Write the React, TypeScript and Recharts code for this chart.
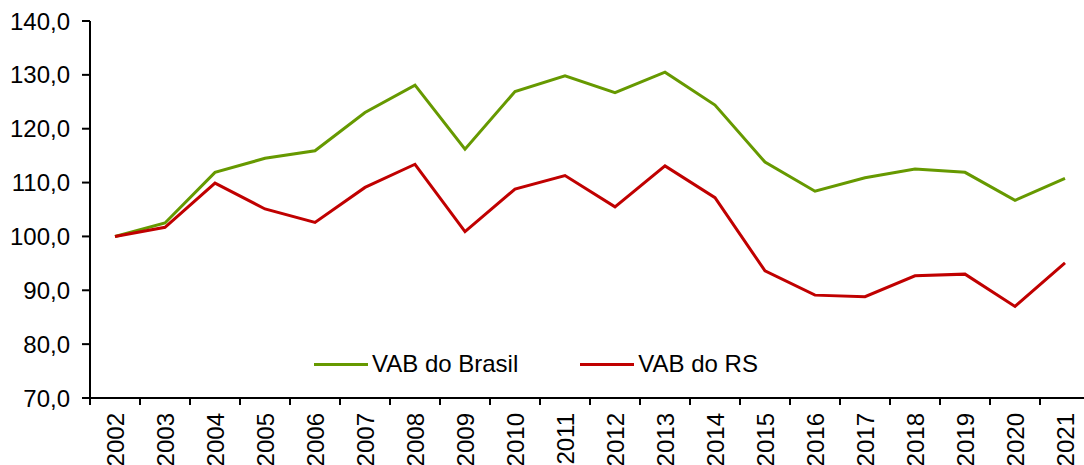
import { Line, LineChart, XAxis, YAxis } from 'recharts'

const years = ['2002', '2003', '2004', '2005', '2006', '2007', '2008', '2009', '2010', '2011', '2012', '2013', '2014', '2015', '2016', '2017', '2018', '2019', '2020', '2021']
const vabBrasil = [100.0, 102.5, 111.9, 114.5, 115.9, 123.0, 128.1, 116.2, 126.9, 129.8, 126.7, 130.5, 124.4, 113.8, 108.4, 110.9, 112.5, 111.9, 106.7, 110.8]
const vabRS = [100.0, 101.7, 109.9, 105.1, 102.6, 109.1, 113.4, 100.9, 108.8, 111.3, 105.5, 113.1, 107.2, 93.6, 89.1, 88.8, 92.7, 93.0, 87.0, 95.1]
const yTicks = [70, 80, 90, 100, 110, 120, 130, 140]

const data = years.map((year, i) => ({ year, brasil: vabBrasil[i], rs: vabRS[i] }))

const FONT = '"Liberation Sans", Arial, sans-serif'
const FONT_SIZE = 24
const GREEN = '#669900'
const RED = '#C00000'
const HALF_BAND = 25

function YearTick({ x, y, payload, index }: { x?: number; y?: number; payload?: { value: string }; index?: number }) {
  const cx = x ?? 0
  const ty = y ?? 0
  return (
    <g>
      <line x1={cx - HALF_BAND} x2={cx - HALF_BAND} y1={ty - 7} y2={ty} stroke="#000" strokeWidth={2} />
      {index === years.length - 1 && (
        <line x1={cx + HALF_BAND} x2={cx + HALF_BAND} y1={ty - 7} y2={ty} stroke="#000" strokeWidth={2} />
      )}
      <text
        x={cx}
        y={ty + 8}
        transform={`rotate(-90, ${cx}, ${ty + 8})`}
        textAnchor="end"
        dominantBaseline="central"
        fontSize={FONT_SIZE}
        fontFamily={FONT}
        fill="#000"
      >
        {payload?.value}
      </text>
    </g>
  )
}

// legend sits inside the plot, drawn as an overlay so it doesn't shrink the plot
function ChartLegend() {
  const item = (color: string, label: string, gap: number) => (
    <div style={{ display: 'flex', alignItems: 'center', marginRight: gap }}>
      <div style={{ width: 54, height: 3, background: color, marginRight: 4 }} />
      <span>{label}</span>
    </div>
  )
  return (
    <div
      style={{
        position: 'absolute',
        left: 314,
        top: 350,
        display: 'flex',
        fontFamily: FONT,
        fontSize: FONT_SIZE,
        color: '#000',
        lineHeight: '28px',
      }}
    >
      {item(GREEN, 'VAB do Brasil', 62)}
      {item(RED, 'VAB do RS', 0)}
    </div>
  )
}

export default function App() {
  return (
    <div style={{ position: 'absolute', left: 0, top: 0, width: 1084, height: 465, overflow: 'hidden', background: '#fff' }}>
      <LineChart width={1092} height={465} data={data} margin={{ top: 21, right: 2, bottom: 0, left: 0 }}>
        <XAxis
          dataKey="year"
          scale="band"
          height={67}
          tickLine={false}
          tickSize={7}
          tickMargin={0}
          interval={0}
          axisLine={{ stroke: '#000', strokeWidth: 2 }}
          tick={<YearTick />}
        />
        <YAxis
          width={90}
          domain={[70, 140]}
          ticks={yTicks}
          interval={0}
          tickSize={8}
          tickMargin={12}
          tickFormatter={(v) => Number(v).toFixed(1).replace('.', ',')}
          axisLine={{ stroke: '#000', strokeWidth: 2 }}
          tickLine={{ stroke: '#000', strokeWidth: 2 }}
          tick={{ fill: '#000', fontSize: FONT_SIZE, fontFamily: FONT }}
        />
        <Line dataKey="brasil" name="VAB do Brasil" stroke={GREEN} strokeWidth={3} dot={false} isAnimationActive={false} />
        <Line dataKey="rs" name="VAB do RS" stroke={RED} strokeWidth={3} dot={false} isAnimationActive={false} />
      </LineChart>
      <ChartLegend />
    </div>
  )
}
